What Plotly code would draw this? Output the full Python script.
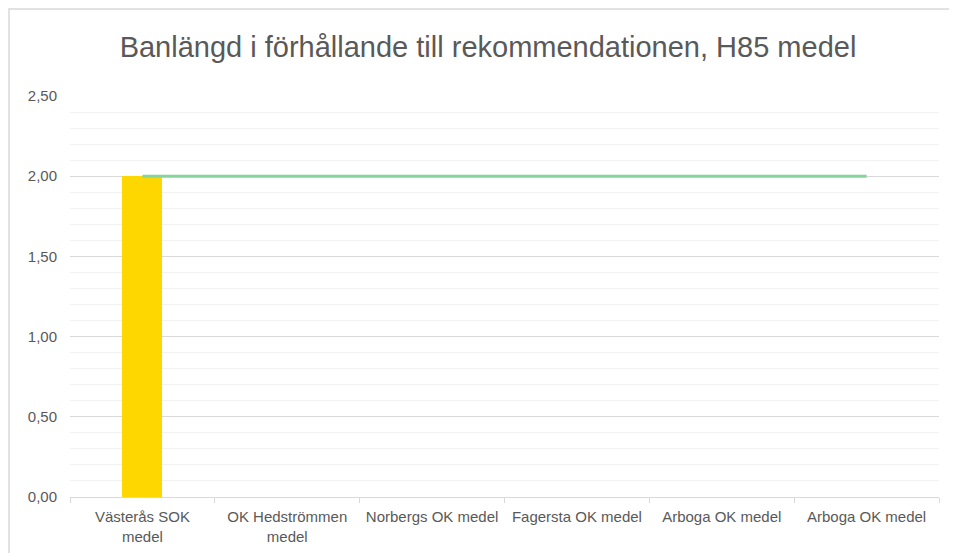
import plotly.graph_objects as go

categories = ["Västerås SOK<br>medel", "OK Hedströmmen<br>medel", "Norbergs OK medel",
              "Fagersta OK medel", "Arboga OK medel", "Arboga OK medel"]
bar_values = [2.0, 0, 0, 0, 0, 0]
line_values = [2.0, 2.0, 2.0, 2.0, 2.0, 2.0]
y_ticks = [0, 0.5, 1.0, 1.5, 2.0, 2.5]

x = list(range(len(categories)))
grey = "#595959"

W, H = 957, 553
L, T, PW, PH = 62, 88, 869, 401
R, B = W - L - PW, H - T - PH

fig = go.Figure()
fig.add_trace(go.Bar(x=x, y=bar_values, marker_color="#FFD700", width=0.276,
                     marker_line_width=0, showlegend=False))
fig.add_trace(go.Scatter(x=x, y=line_values, mode="lines",
                         line=dict(color="#84d49c", width=3), showlegend=False))

fig.update_layout(
    width=W, height=H,
    margin=dict(l=L, r=R, t=T, b=B),
    paper_bgcolor="white", plot_bgcolor="white",
    separators=", ",
    font=dict(family="Liberation Sans, Arial", color=grey, size=15),
    title=dict(text="Banlängd i förhållande till rekommendationen, H85 medel",
               x=480 / W, xref="container", xanchor="center",
               y=1 - 39 / H, yref="container", yanchor="middle",
               font=dict(size=29, color=grey)),
    bargap=0,
)
fig.update_xaxes(
    range=[-0.5, 5.5], tickvals=x, ticktext=categories, ticks="",
    showgrid=False, zeroline=False, showline=True, linecolor="#d9d9d9", linewidth=1,
    tickfont=dict(size=15, color=grey), ticklabelstandoff=6,
    minor=dict(tickvals=[i - 0.5 for i in range(len(categories) + 1)], ticks="outside",
               ticklen=5, tickcolor="#d9d9d9", showgrid=False),
)
fig.update_yaxes(
    range=[0, 2.5], tickvals=y_ticks, tickformat=".2f", ticks="",
    showgrid=True, gridcolor="#d9d9d9", gridwidth=1, zeroline=False, showline=False,
    tickfont=dict(size=15, color=grey), ticklabelstandoff=12,
    minor=dict(dtick=0.1, showgrid=True, gridcolor="#f2f2f2", gridwidth=1),
)
# chart border
fig.add_shape(type="rect", xref="paper", yref="paper",
              x0=(1 - L) / PW, x1=(W - 1 - L) / PW,
              y0=-(B - 1) / PH, y1=1 + (T - 1) / PH,
              line=dict(color="#d9d9d9", width=1.5), layer="below")

fig.write_html("out.html")
